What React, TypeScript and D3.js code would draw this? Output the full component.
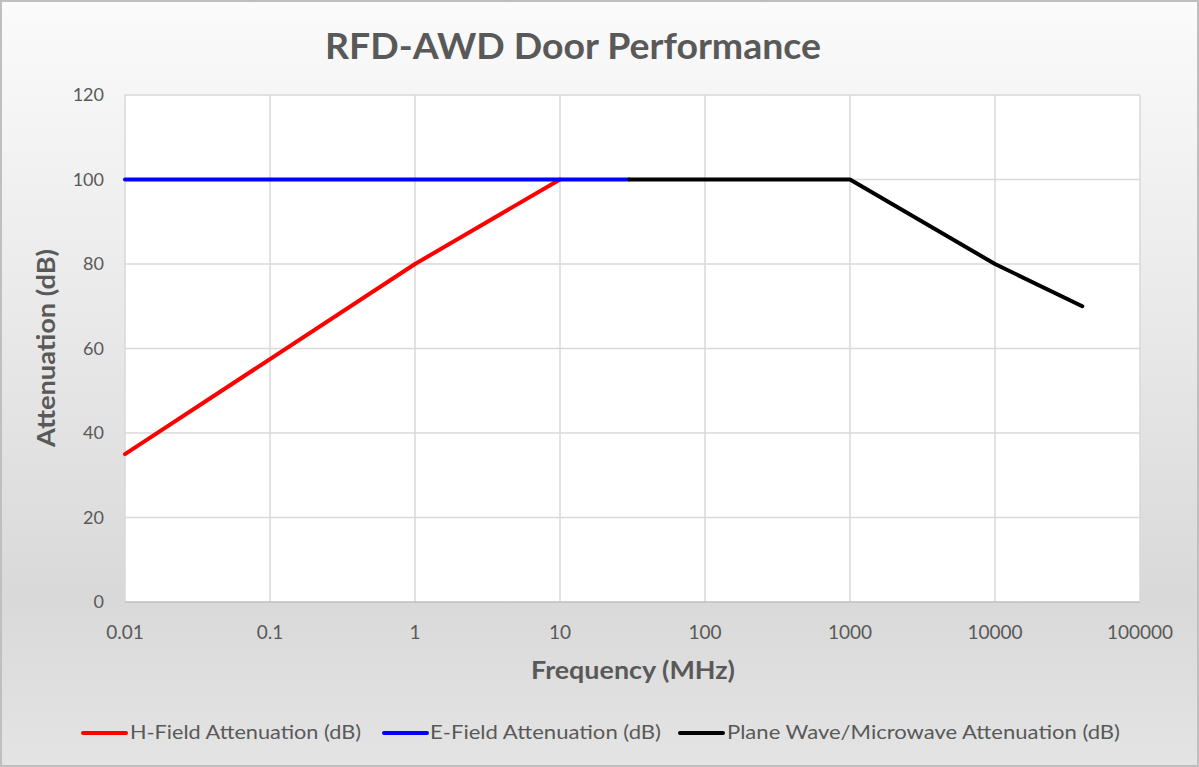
import React from "react";
import * as d3 from "d3";

const W = 1199;
const H = 767;

const xTickValues = [0.01, 0.1, 1, 10, 100, 1000, 10000, 100000];
const xTickLabels = ["0.01", "0.1", "1", "10", "100", "1000", "10000", "100000"];
const yTickValues = [0, 20, 40, 60, 80, 100, 120];

const hFieldFreq = [0.01, 1, 10];
const hFieldAtt = [35, 80, 100];
const eFieldFreq = [0.01, 30];
const eFieldAtt = [100, 100];
const planeFreq = [30, 1000, 10000, 40000];
const planeAtt = [100, 100, 80, 70];

const seriesNames = [
  "H-Field Attenuation (dB)",
  "E-Field Attenuation (dB)",
  "Plane Wave/Microwave Attenuation (dB)",
];
const seriesColors = ["#FF0000", "#0000FF", "#000000"];

const FONT = "Lato, 'Open Sans', sans-serif";
const TXT = "#595959";

export default function App() {
  const x = d3.scaleLog().domain([0.01, 100000]).range([125, 1140]);
  const y = d3.scaleLinear().domain([0, 120]).range([602, 95]);
  const line = d3
    .line<[number, number]>()
    .x((d) => x(d[0]))
    .y((d) => y(d[1]));

  const series = [
    hFieldFreq.map((f, i) => [f, hFieldAtt[i]] as [number, number]),
    eFieldFreq.map((f, i) => [f, eFieldAtt[i]] as [number, number]),
    planeFreq.map((f, i) => [f, planeAtt[i]] as [number, number]),
  ];

  const legendItems = [
    { lx: 83, tx: 130, tl: 231 },
    { lx: 384, tx: 430, tl: 231 },
    { lx: 680, tx: 727, tl: 393 },
  ];

  return (
    <svg
      width={W}
      height={H}
      style={{ position: "absolute", left: 0, top: 0, display: "block" }}
    >
      <defs>
        <linearGradient id="bg" x1="0" y1="0" x2="0" y2="1">
          <stop offset="0%" stopColor="#FBFBFB" />
          <stop offset="78%" stopColor="#D9D9D9" />
          <stop offset="100%" stopColor="#E4E4E4" />
        </linearGradient>
      </defs>
      <rect x={1} y={1} width={W - 2} height={H - 2} fill="url(#bg)" stroke="#BFBFBF" strokeWidth={2} />
      <rect x={125} y={95} width={1015} height={507} fill="#FFFFFF" />
      {xTickValues.map((v) => (
        <line key={"gx" + v} x1={x(v)} x2={x(v)} y1={95} y2={602} stroke="#D9D9D9" strokeWidth={1.5} />
      ))}
      {yTickValues.map((v) => (
        <line key={"gy" + v} x1={125} x2={1140} y1={y(v)} y2={y(v)} stroke={v === 0 ? "#BFBFBF" : "#D9D9D9"} strokeWidth={1.5} />
      ))}
      {series.map((s, i) => (
        <path
          key={"s" + i}
          d={line(s) || ""}
          fill="none"
          stroke={seriesColors[i]}
          strokeWidth={4}
          strokeLinejoin="round"
          strokeLinecap="round"
        />
      ))}
      {yTickValues.map((v) => (
        <text key={"ty" + v} x={104} y={y(v)} dy="0.35em" textAnchor="end" fontFamily={FONT} fontSize={18} fill={TXT}>
          {v}
        </text>
      ))}
      {xTickValues.map((v, i) => (
        <text key={"tx" + v} x={x(v)} y={639} textAnchor="middle" fontFamily={FONT} fontSize={19} fill={TXT}>
          {xTickLabels[i]}
        </text>
      ))}
      <text
        x={573}
        y={59}
        textAnchor="middle"
        fontFamily={FONT}
        fontWeight="bold"
        fontSize={37}
        fill={TXT}
        textLength={496}
        lengthAdjust="spacingAndGlyphs"
      >
        RFD-AWD Door Performance
      </text>
      <text
        x={633}
        y={679}
        textAnchor="middle"
        fontFamily={FONT}
        fontWeight="bold"
        fontSize={25}
        fill={TXT}
        textLength={204}
        lengthAdjust="spacingAndGlyphs"
      >
        Frequency (MHz)
      </text>
      <text
        transform="translate(55,348) rotate(-90)"
        textAnchor="middle"
        fontFamily={FONT}
        fontWeight="bold"
        fontSize={25}
        fill={TXT}
        textLength={198}
        lengthAdjust="spacingAndGlyphs"
      >
        Attenuation (dB)
      </text>
      {legendItems.map((it, i) => (
        <g key={"lg" + i}>
          <line x1={it.lx} x2={it.lx + 43} y1={733} y2={733} stroke={seriesColors[i]} strokeWidth={4} strokeLinecap="round" />
          <text
            x={it.tx}
            y={739}
            fontFamily={FONT}
            fontSize={19}
            fill={TXT}
            textLength={it.tl}
            lengthAdjust="spacingAndGlyphs"
          >
            {seriesNames[i]}
          </text>
        </g>
      ))}
    </svg>
  );
}
